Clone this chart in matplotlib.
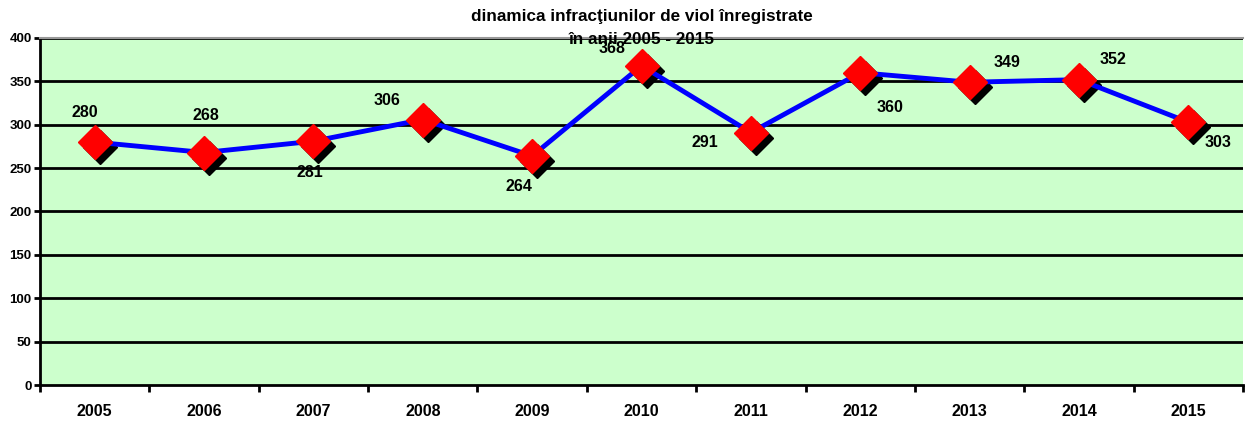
import matplotlib.pyplot as plt
import matplotlib.transforms as mtransforms

years = ['2005', '2006', '2007', '2008', '2009', '2010', '2011', '2012', '2013', '2014', '2015']
cases = [280, 268, 281, 306, 264, 368, 291, 360, 349, 352, 303]
# label offsets in pixels (dx, dy up)
label_off = [(-10, 30), (2, 37), (-4, -31), (-36, 19), (-13, -31), (-29, 17),
             (-46, -10), (30, -35), (37, 20), (34, 20), (30, -20)]

plt.rcParams['font.family'] = ['Liberation Sans', 'DejaVu Sans']
plt.rcParams['font.weight'] = 'bold'

fig = plt.figure(figsize=(12.47, 4.23), dpi=100)
ax = fig.add_axes([40 / 1247, 1 - 385 / 423, 1203 / 1247, 347 / 423])
ax.set_facecolor('#CCFFCC')

x = list(range(len(years)))
ax.set_xlim(-0.5, len(years) - 0.5)
ax.set_ylim(0, 400)

for v in range(50, 401, 50):
    ax.axhline(v, color='black', lw=2, zorder=1)

shadow = mtransforms.offset_copy(ax.transData, fig=fig, x=5, y=-5, units='dots')
ax.plot(x, cases, ls='none', marker='D', ms=17, color='black', transform=shadow, zorder=2)
ax.plot(x, cases, color='#0000FF', lw=3.5, zorder=3)
ax.plot(x, cases, ls='none', marker='D', ms=17, color='#FF0000', zorder=4)

for i, v in enumerate(cases):
    ax.annotate(str(v), (i, v), xytext=(label_off[i][0] * 0.72, label_off[i][1] * 0.72),
                textcoords='offset points', ha='center', va='center',
                fontsize=11.5, fontweight='bold', zorder=5)

ax.set_yticks(range(0, 401, 50))
ax.set_yticklabels([str(v) for v in range(0, 401, 50)], fontsize=9.5, fontweight='bold')
ax.set_xticks([i + 0.5 for i in range(-1, len(years))], minor=False)
ax.set_xticklabels([])
ax.set_xticks(x, minor=True)
ax.set_xticklabels(years, minor=True, fontsize=11.5, fontweight='bold')
ax.tick_params(axis='x', which='major', direction='out', length=5, width=2)
ax.tick_params(axis='x', which='minor', length=0, pad=14)
ax.tick_params(axis='y', direction='out', length=4, width=2, pad=2)

for s in ['left', 'bottom']:
    ax.spines[s].set_linewidth(2)
ax.spines['right'].set_visible(False)
ax.spines['top'].set_color('#999999')
ax.spines['top'].set_linewidth(1.5)

ax_cx = (40 + 1203 / 2) / 1247
fig.text(ax_cx, 1 - 17 / 423, 'dinamica infracţiunilor de viol înregistrate',
         ha='center', va='center', fontsize=12.3, fontweight='bold')
fig.text(ax_cx, 1 - 40 / 423, 'în anii 2005 - 2015',
         ha='center', va='center', fontsize=12.3, fontweight='bold', zorder=6)

fig.savefig('out.png', dpi=100)
